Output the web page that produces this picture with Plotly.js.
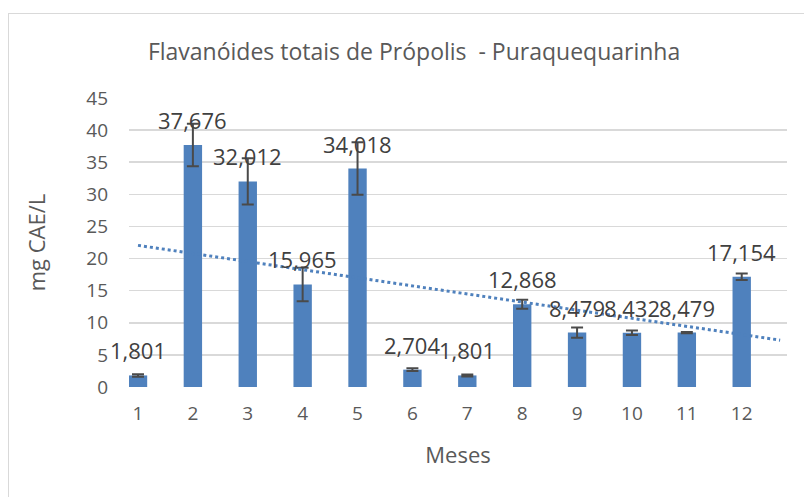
<!DOCTYPE html>
<html>
<head>
<meta charset="utf-8">
<script src="https://cdn.plot.ly/plotly-3.0.1.min.js"></script>
<style>
  html, body { margin: 0; padding: 0; background: #ffffff; }
  #frame { position: absolute; left: 8px; top: 13px; width: 820px; height: 520px; border: 1px solid #d9d9d9; box-sizing: border-box; }
  #chart { position: absolute; left: 0; top: 0; width: 804px; height: 497px; }
</style>
</head>
<body>
<div id="frame"></div>
<div id="chart"></div>
<script>
// ---- data ----
const months = [1, 2, 3, 4, 5, 6, 7, 8, 9, 10, 11, 12];
const monthLabels = ["1", "2", "3", "4", "5", "6", "7", "8", "9", "10", "11", "12"];
const flavonoids = [1.801, 37.676, 32.012, 15.965, 34.018, 2.704, 1.801, 12.868, 8.479, 8.432, 8.479, 17.154];
const errors = [0.2, 3.3, 3.6, 2.6, 4.1, 0.2, 0.15, 0.7, 0.8, 0.35, 0.1, 0.5];
const yTicks = [0, 5, 10, 15, 20, 25, 30, 35, 40, 45];

// linear trendline (least squares over the series)
const n = months.length;
const mx = months.reduce((a, b) => a + b, 0) / n;
const my = flavonoids.reduce((a, b) => a + b, 0) / n;
let sxy = 0, sxx = 0;
for (let i = 0; i < n; i++) { sxy += (months[i] - mx) * (flavonoids[i] - my); sxx += (months[i] - mx) ** 2; }
const slope = sxy / sxx, intercept = my - slope * mx;
const trendX = [months[0], months[n - 1] + 0.7];
const trendY = trendX.map(x => intercept + slope * x);

const fmt = v => v.toFixed(3).replace('.', ',');

const blue = '#4F81BD';
const grey = '#595959';
const font = 'Open Sans, Lato, sans-serif';

const traces = [
  {
    type: 'bar', x: months, y: flavonoids, width: 0.335,
    marker: { color: blue },
    error_y: { type: 'data', array: errors, visible: true, color: '#4a4a4a', thickness: 2, width: 6 },
    hoverinfo: 'x+y', showlegend: false
  },
  {
    type: 'scatter', mode: 'lines', x: trendX, y: trendY,
    line: { color: blue, width: 3, dash: 'dot' },
    hoverinfo: 'skip', showlegend: false
  }
];

const annotations = months.map((m, i) => ({
  x: m, y: flavonoids[i], xref: 'x', yref: 'y',
  text: fmt(flavonoids[i]), showarrow: false, yshift: 25,
  font: { family: font, size: 22, color: '#404040' }
}));

const layout = {
  width: 804, height: 497,
  margin: { l: 129, r: 17, t: 98, b: 110 },
  paper_bgcolor: 'rgba(0,0,0,0)', plot_bgcolor: 'rgba(0,0,0,0)',
  title: {
    text: 'Flavanóides totais de Própolis  - Puraquequarinha',
    font: { family: font, size: 23, color: grey },
    xref: 'container', x: 0.515, xanchor: 'center',
    yref: 'container', y: 0.895, yanchor: 'middle'
  },
  xaxis: {
    range: [0.836, 12.825], tickmode: 'array', tickvals: months, ticktext: monthLabels,
    showgrid: false, zeroline: false, showline: false, ticks: '', ticklabelstandoff: 13,
    tickfont: { family: font, size: 19, color: grey },
    title: { text: 'Meses', font: { family: font, size: 22, color: grey }, standoff: 22 }
  },
  yaxis: {
    range: [0, 45], tickmode: 'array', tickvals: yTicks,
    showgrid: true, gridcolor: '#d9d9d9', gridwidth: 1.5, zeroline: false,
    showline: false, ticks: '', ticklabelstandoff: 20,
    tickfont: { family: font, size: 19, color: grey },
    title: { text: 'mg CAE/L', font: { family: font, size: 22, color: grey }, standoff: 34 }
  },
  annotations: annotations,
  bargap: 0.67
};

Plotly.newPlot('chart', traces, layout, { displayModeBar: false, staticPlot: true });
</script>
</body>
</html>
